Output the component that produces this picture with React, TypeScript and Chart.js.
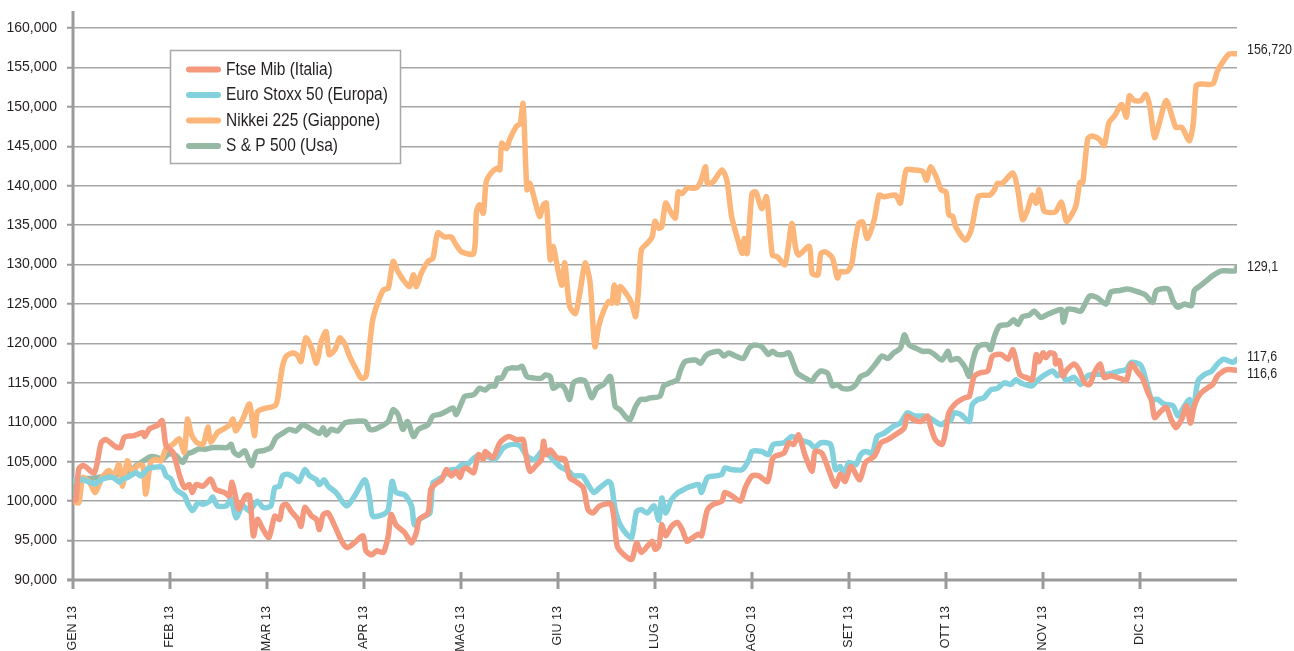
import React, { useEffect, useRef } from "react";
import { Chart, registerables } from "chart.js";

Chart.register(...registerables);

// ---------- DATA ----------
const monthLabels = ["GEN 13", "FEB 13", "MAR 13", "APR 13", "MAG 13", "GIU 13", "LUG 13", "AGO 13", "SET 13", "OTT 13", "NOV 13", "DIC 13"];
const seriesNames = ["Ftse Mib (Italia)", "Euro Stoxx 50 (Europa)", "Nikkei 225 (Giappone)", "S & P 500 (Usa)"];
const endLabels = ["116,6", "117,6", "156,720", "129,1"];
const yTickValues = [90, 95, 100, 105, 110, 115, 120, 125, 130, 135, 140, 145, 150, 155, 160];

// [month position, value (thousands)]
const ftseMib: [number, number][] = [
  [0.00, 100.0], [0.03, 100.2], [0.06, 104.1], [0.11, 104.5], [0.22, 103.6], [0.29, 107.4], [0.34, 107.8], [0.44, 106.9], [0.49, 106.8], [0.53, 108.1], [0.63, 108.3], [0.72, 108.7], [0.74, 108.2], [0.79, 109.2], [0.87, 109.6], [0.92, 110.2], [0.96, 107.0], [1.03, 106.2], [1.10, 103.2], [1.15, 101.7], [1.20, 102.1], [1.23, 101.1], [1.27, 102.1], [1.34, 101.9], [1.42, 102.8], [1.47, 101.5], [1.56, 101.1], [1.61, 100.7], [1.64, 102.4], [1.68, 100.3], [1.71, 99.0], [1.78, 100.7], [1.82, 100.7], [1.86, 95.6], [1.90, 97.7], [1.96, 96.4],
  [2.02, 95.4], [2.08, 98.1], [2.13, 97.7], [2.16, 99.4], [2.20, 99.6], [2.25, 98.7], [2.32, 97.7], [2.35, 96.8], [2.39, 99.2], [2.46, 98.1], [2.51, 97.7], [2.54, 96.4], [2.58, 98.3], [2.63, 98.5], [2.70, 96.8], [2.78, 94.7], [2.83, 94.1], [2.90, 94.7], [2.99, 95.6], [3.02, 93.7], [3.08, 93.2], [3.13, 93.7], [3.20, 93.5], [3.25, 95.6], [3.28, 98.3], [3.33, 97.0], [3.42, 96.0], [3.49, 94.7], [3.54, 96.0], [3.57, 97.7], [3.66, 98.5], [3.69, 101.5], [3.75, 102.3], [3.80, 102.7], [3.85, 104.0], [3.90, 103.2], [3.95, 103.8],
  [3.99, 103.0], [4.02, 104.0], [4.06, 104.2], [4.13, 103.6], [4.18, 105.9], [4.23, 105.3], [4.25, 106.3], [4.33, 105.5], [4.40, 107.4], [4.49, 108.2], [4.57, 107.8], [4.64, 107.8], [4.66, 106.5], [4.71, 103.8], [4.78, 104.6], [4.83, 105.3], [4.85, 107.6], [4.88, 105.9], [4.92, 106.5], [4.99, 105.5], [5.07, 105.3], [5.12, 103.0], [5.18, 102.5], [5.26, 101.7], [5.31, 98.9], [5.36, 98.5], [5.43, 99.4], [5.55, 99.6], [5.61, 94.3], [5.68, 93.2], [5.76, 92.6], [5.81, 94.7], [5.86, 93.5], [5.97, 94.9],
  [6.00, 93.9], [6.04, 94.3], [6.07, 97.0], [6.11, 95.6], [6.17, 96.8], [6.23, 97.3], [6.28, 96.4], [6.33, 94.9], [6.38, 95.3], [6.45, 95.8], [6.48, 95.6], [6.54, 98.9], [6.60, 99.6], [6.69, 100.0], [6.72, 101.1], [6.79, 100.7], [6.88, 100.0], [6.93, 101.7], [7.00, 103.2], [7.07, 103.2], [7.16, 102.5], [7.21, 105.3], [7.24, 105.7], [7.33, 106.1], [7.38, 107.4], [7.43, 107.2], [7.48, 108.4], [7.55, 105.7], [7.62, 103.8], [7.65, 106.3], [7.72, 106.1], [7.79, 104.0], [7.86, 101.9], [7.91, 103.4], [7.96, 102.5],
  [8.02, 104.4], [8.11, 102.7], [8.17, 104.9], [8.26, 105.7], [8.33, 107.4], [8.40, 107.8], [8.50, 108.6], [8.57, 109.3], [8.60, 110.8], [8.67, 110.3], [8.74, 110.1], [8.81, 110.8], [8.84, 109.5], [8.89, 107.8], [8.96, 107.2], [9.00, 109.1], [9.03, 111.2], [9.10, 112.4], [9.19, 113.1], [9.24, 113.3], [9.29, 115.8], [9.36, 116.3], [9.43, 116.5], [9.48, 118.4], [9.57, 118.6], [9.64, 118.0], [9.69, 119.2], [9.76, 116.1], [9.84, 115.6], [9.89, 115.4], [9.93, 118.6], [9.96, 117.7], [10.00, 118.8],
  [10.03, 118.2], [10.07, 118.8], [10.12, 118.6], [10.13, 117.4], [10.17, 117.8], [10.20, 115.9], [10.25, 116.7], [10.32, 117.4], [10.37, 116.7], [10.43, 115.0], [10.48, 114.8], [10.53, 116.3], [10.59, 117.4], [10.63, 115.7], [10.70, 115.9], [10.81, 115.5], [10.86, 115.3], [10.91, 117.4], [10.98, 116.3], [11.03, 115.5], [11.08, 113.8], [11.12, 112.7], [11.15, 110.6], [11.20, 111.2], [11.27, 111.9], [11.32, 110.4], [11.37, 109.3], [11.43, 110.4], [11.48, 112.1], [11.52, 109.9], [11.56, 112.1], [11.62, 113.6], [11.70, 114.4], [11.75, 114.8], [11.80, 115.9], [11.86, 116.5], [11.91, 116.7], [12.00, 116.6],
];

const euroStoxx: [number, number][] = [
  [0.00, 102.6], [0.05, 102.4], [0.08, 102.8], [0.13, 102.6], [0.23, 102.2], [0.30, 102.8], [0.41, 103.0], [0.48, 102.4], [0.51, 102.8], [0.56, 103.0], [0.65, 103.6], [0.70, 103.2], [0.77, 104.1], [0.84, 104.3], [0.92, 104.3], [0.96, 103.2], [1.01, 102.8], [1.06, 101.5], [1.15, 100.7], [1.18, 99.8], [1.23, 98.8], [1.29, 99.8], [1.34, 99.6], [1.41, 100.0], [1.44, 100.5], [1.49, 99.4], [1.58, 99.4], [1.63, 100.3], [1.68, 97.9], [1.75, 99.4], [1.82, 98.8], [1.90, 100.0], [1.96, 99.2],
  [2.04, 99.4], [2.08, 101.7], [2.13, 101.9], [2.16, 103.2], [2.21, 103.4], [2.28, 103.0], [2.33, 102.5], [2.39, 104.0], [2.44, 103.2], [2.51, 102.7], [2.54, 102.1], [2.59, 102.7], [2.63, 101.9], [2.71, 101.1], [2.82, 99.4], [2.90, 100.6], [3.01, 102.7], [3.06, 100.2], [3.09, 98.1], [3.20, 98.3], [3.25, 98.9], [3.29, 102.5], [3.33, 101.1], [3.42, 100.8], [3.49, 99.4], [3.52, 97.0], [3.57, 97.7], [3.63, 98.1], [3.68, 98.5], [3.71, 102.3], [3.76, 102.7], [3.82, 103.2], [3.90, 104.0], [3.95, 104.0],
  [4.01, 104.6], [4.06, 104.6], [4.16, 105.7], [4.26, 105.7], [4.35, 105.3], [4.44, 106.8], [4.54, 107.2], [4.61, 107.0], [4.68, 105.7], [4.76, 105.3], [4.85, 106.5], [4.93, 105.5], [5.02, 104.4], [5.11, 103.8], [5.16, 103.2], [5.25, 103.2], [5.31, 102.1], [5.37, 101.1], [5.43, 101.7], [5.52, 102.5], [5.55, 102.1], [5.59, 98.9], [5.64, 97.0], [5.71, 95.8], [5.76, 95.4], [5.81, 98.7], [5.86, 98.9], [5.92, 98.5], [5.99, 99.4], [6.04, 97.6], [6.07, 100.4],
  [6.11, 98.5], [6.17, 100.2], [6.24, 101.1], [6.30, 101.5], [6.33, 101.7], [6.38, 101.9], [6.45, 102.1], [6.48, 101.1], [6.54, 103.0], [6.62, 103.2], [6.69, 103.4], [6.72, 104.2], [6.79, 104.0], [6.90, 104.0], [6.97, 105.3], [7.00, 106.3], [7.10, 106.3], [7.17, 105.9], [7.22, 107.2], [7.33, 107.4], [7.41, 108.2], [7.48, 107.8], [7.59, 107.4], [7.65, 106.8], [7.71, 107.4], [7.81, 107.2], [7.86, 104.0], [7.91, 104.4], [7.95, 103.4], [8.00, 104.9],
  [8.07, 104.6], [8.12, 105.9], [8.17, 106.3], [8.24, 106.1], [8.29, 108.2], [8.36, 108.6], [8.46, 109.5], [8.53, 109.9], [8.60, 111.2], [8.67, 110.8], [8.77, 110.8], [8.84, 110.5], [8.95, 109.7], [9.00, 110.1], [9.05, 110.3], [9.08, 111.2], [9.15, 111.0], [9.24, 110.1], [9.27, 112.2], [9.33, 112.9], [9.39, 113.1], [9.46, 114.1], [9.53, 114.3], [9.60, 115.0], [9.67, 114.8], [9.72, 115.4], [9.77, 115.0], [9.88, 114.6], [9.95, 115.4],
  [10.03, 116.1], [10.10, 116.5], [10.15, 115.9], [10.19, 116.3], [10.24, 115.3], [10.32, 115.7], [10.39, 114.8], [10.46, 115.9], [10.55, 116.1], [10.67, 116.1], [10.79, 116.5], [10.86, 116.7], [10.91, 117.6], [11.01, 117.2], [11.08, 114.4], [11.12, 112.9], [11.18, 112.9], [11.25, 112.3], [11.34, 112.1], [11.39, 110.8], [11.46, 112.1], [11.51, 112.9], [11.55, 111.7], [11.60, 115.3], [11.67, 116.1], [11.74, 116.5], [11.80, 117.4], [11.86, 118.0], [11.91, 117.8], [11.96, 117.6], [12.00, 118.0],
];

const nikkei: [number, number][] = [
  [0.00, 100.0], [0.06, 99.8], [0.10, 103.0], [0.17, 102.4], [0.23, 101.1], [0.30, 103.0], [0.37, 103.9], [0.42, 103.2], [0.475, 104.7], [0.51, 101.9], [0.56, 105.1], [0.61, 103.6], [0.665, 104.5], [0.72, 104.5], [0.75, 100.9], [0.80, 104.9], [0.85, 105.3], [0.906, 105.1], [0.957, 106.6], [1.03, 107.2], [1.095, 107.9], [1.147, 106.2], [1.18, 110.4], [1.22, 108.5], [1.27, 107.5], [1.34, 107.2], [1.39, 109.4], [1.42, 107.5], [1.49, 108.7], [1.56, 109.2], [1.61, 109.6], [1.65, 110.4], [1.68, 108.9], [1.75, 110.4], [1.82, 112.3], [1.87, 108.3], [1.90, 111.3], [1.96, 111.7],
  [2.09, 112.2], [2.13, 114.8], [2.16, 117.1], [2.20, 118.4], [2.27, 118.8], [2.32, 118.4], [2.35, 117.7], [2.40, 120.7], [2.46, 119.4], [2.51, 117.5], [2.56, 120.3], [2.61, 121.5], [2.64, 118.6], [2.70, 119.2], [2.75, 120.7], [2.80, 120.0], [2.85, 118.4], [2.92, 116.7], [2.97, 115.6], [3.02, 115.8], [3.06, 120.0], [3.09, 123.0], [3.14, 125.1], [3.20, 126.8], [3.25, 127.0], [3.30, 130.4], [3.35, 129.1], [3.42, 127.8], [3.47, 127.2], [3.51, 128.7], [3.54, 127.2], [3.59, 128.9], [3.66, 130.4], [3.71, 130.8], [3.76, 134.0], [3.83, 133.5], [3.90, 133.5], [3.95, 132.5], [4.01, 131.6],
  [4.13, 131.4], [4.16, 136.7], [4.19, 137.6], [4.23, 136.5], [4.26, 140.5], [4.31, 141.6], [4.37, 142.2], [4.40, 142.0], [4.42, 145.4], [4.47, 144.7], [4.50, 145.8], [4.57, 147.5], [4.61, 147.9], [4.64, 150.4], [4.68, 139.5], [4.71, 140.3], [4.76, 138.2], [4.81, 136.1], [4.85, 137.6], [4.88, 137.8], [4.92, 130.6], [4.95, 132.3], [5.00, 129.3], [5.04, 127.4], [5.07, 130.2], [5.12, 124.7], [5.18, 123.8], [5.23, 126.8], [5.28, 130.2], [5.33, 127.8], [5.38, 119.6], [5.42, 122.2], [5.47, 124.1], [5.52, 125.3], [5.555, 125.1], [5.58, 127.4], [5.61, 125.1], [5.64, 127.2], [5.71, 126.2], [5.76, 125.1], [5.80, 123.4], [5.83, 126.8], [5.86, 131.9], [5.92, 132.7], [5.97, 133.5], [6.00, 135.5], [6.04, 134.6], [6.07, 134.8],
  [6.11, 137.8], [6.16, 136.7], [6.21, 135.9], [6.24, 139.2], [6.28, 139.0], [6.33, 139.7], [6.42, 139.7], [6.47, 140.5], [6.52, 142.4], [6.54, 140.3], [6.60, 140.5], [6.69, 142.0], [6.74, 140.7], [6.79, 136.1], [6.85, 133.3], [6.90, 131.4], [6.92, 133.3], [6.95, 131.4], [7.00, 139.0], [7.04, 139.2], [7.10, 137.1], [7.15, 138.6], [7.21, 131.2], [7.26, 131.0], [7.34, 130.0], [7.41, 135.2], [7.45, 132.1], [7.48, 131.2], [7.59, 132.3], [7.62, 128.9], [7.68, 128.7], [7.71, 131.4], [7.76, 131.6], [7.83, 130.8], [7.88, 128.3], [7.91, 129.1], [7.98, 129.1], [8.03, 130.2],
  [8.05, 131.9], [8.10, 135.2], [8.14, 135.4], [8.19, 133.3], [8.26, 135.7], [8.31, 138.8], [8.36, 138.6], [8.48, 138.8], [8.53, 137.8], [8.59, 142.0], [8.67, 142.0], [8.76, 141.8], [8.80, 140.7], [8.84, 142.4], [8.90, 141.1], [8.95, 139.5], [9.00, 139.2], [9.03, 136.3], [9.07, 136.1], [9.10, 134.8], [9.20, 133.1], [9.26, 134.4], [9.33, 138.6], [9.39, 138.8], [9.45, 138.8], [9.50, 139.5], [9.53, 140.3], [9.58, 140.3], [9.69, 141.6], [9.74, 139.5], [9.79, 135.7], [9.84, 136.9], [9.89, 138.8], [9.93, 137.8], [9.96, 139.5], [10.01, 136.8],
  [10.07, 136.6], [10.13, 136.7], [10.19, 137.9], [10.24, 135.5], [10.27, 135.8], [10.34, 137.5], [10.38, 140.4], [10.41, 140.4], [10.46, 145.9], [10.50, 146.3], [10.58, 145.9], [10.63, 145.1], [10.68, 148.0], [10.74, 148.9], [10.81, 150.3], [10.86, 148.7], [10.89, 151.4], [10.94, 150.8], [11.01, 150.8], [11.06, 151.6], [11.10, 150.1], [11.15, 146.1], [11.20, 148.0], [11.27, 150.8], [11.34, 148.4], [11.37, 147.4], [11.43, 147.4], [11.51, 145.7], [11.55, 148.0], [11.58, 152.7], [11.63, 152.9], [11.75, 152.9], [11.80, 154.6], [11.86, 155.8], [11.92, 156.7], [12.00, 156.72],
];

const sp500: [number, number][] = [
  [0.00, 101.0], [0.05, 102.7], [0.20, 102.9], [0.40, 103.3], [0.58, 103.6], [0.65, 104.5], [0.70, 104.9], [0.79, 105.6], [0.85, 105.6], [0.92, 105.3], [0.99, 106.0], [1.06, 105.8], [1.13, 104.9], [1.18, 106.0], [1.23, 106.2], [1.29, 106.6], [1.37, 106.6], [1.44, 106.8], [1.51, 106.8], [1.59, 106.8], [1.63, 107.2], [1.66, 106.2], [1.71, 105.8], [1.77, 106.4], [1.84, 104.5], [1.89, 106.2], [1.96, 106.4],
  [2.04, 106.8], [2.09, 108.0], [2.16, 108.6], [2.23, 109.1], [2.30, 108.9], [2.37, 109.7], [2.46, 109.1], [2.54, 108.6], [2.58, 109.3], [2.61, 108.4], [2.66, 109.1], [2.73, 108.9], [2.80, 109.9], [2.90, 110.1], [3.01, 110.1], [3.06, 109.1], [3.11, 109.1], [3.18, 109.5], [3.25, 110.1], [3.30, 111.6], [3.35, 111.0], [3.40, 109.1], [3.45, 110.1], [3.51, 108.2], [3.56, 109.1], [3.66, 109.7], [3.71, 110.8], [3.78, 111.0], [3.85, 111.4], [3.92, 111.8], [3.95, 111.0], [4.01, 112.6], [4.04, 113.3],
  [4.13, 113.5], [4.19, 114.3], [4.25, 114.1], [4.30, 114.6], [4.35, 114.6], [4.38, 115.6], [4.42, 115.6], [4.47, 116.7], [4.52, 116.9], [4.59, 116.9], [4.63, 117.1], [4.68, 115.8], [4.76, 115.6], [4.83, 115.6], [4.87, 116.0], [4.92, 115.8], [4.95, 114.3], [5.02, 114.8], [5.07, 114.3], [5.12, 112.9], [5.16, 115.0], [5.23, 115.4], [5.28, 115.2], [5.31, 114.3], [5.35, 113.1], [5.40, 114.3], [5.47, 114.8], [5.54, 115.8], [5.59, 112.0], [5.64, 111.6], [5.69, 110.8], [5.74, 110.3], [5.80, 112.0], [5.85, 112.9], [5.90, 112.9], [5.95, 113.1], [6.05, 113.3],
  [6.09, 114.6], [6.16, 115.0], [6.23, 115.4], [6.26, 116.5], [6.31, 117.7], [6.42, 117.9], [6.47, 117.5], [6.52, 118.4], [6.57, 118.8], [6.66, 119.0], [6.71, 118.4], [6.76, 118.8], [6.83, 118.4], [6.91, 118.1], [6.97, 119.4], [7.02, 119.8], [7.10, 119.6], [7.17, 118.6], [7.21, 119.0], [7.26, 118.6], [7.33, 118.6], [7.38, 118.8], [7.43, 117.3], [7.47, 116.2], [7.55, 115.6], [7.62, 115.2], [7.65, 115.8], [7.71, 116.5], [7.78, 116.2], [7.83, 114.6], [7.88, 114.8], [7.93, 114.3], [8.02, 114.3],
  [8.07, 114.8], [8.12, 115.8], [8.19, 116.2], [8.28, 117.5], [8.34, 118.4], [8.40, 118.1], [8.46, 118.8], [8.53, 119.4], [8.57, 121.1], [8.62, 119.8], [8.69, 119.4], [8.76, 119.0], [8.83, 119.0], [8.88, 118.6], [8.96, 117.9], [9.02, 119.0], [9.05, 117.9], [9.12, 118.1], [9.19, 117.1], [9.24, 115.8], [9.27, 117.5], [9.31, 119.2], [9.36, 119.8], [9.43, 119.8], [9.46, 119.2], [9.50, 120.9], [9.55, 122.2], [9.64, 122.4], [9.70, 123.0], [9.74, 122.4], [9.79, 123.4], [9.86, 123.6], [9.91, 124.1], [9.98, 123.3],
  [10.05, 123.7], [10.13, 124.1], [10.19, 124.3], [10.21, 122.7], [10.25, 124.3], [10.32, 124.3], [10.39, 124.1], [10.48, 126.0], [10.56, 125.8], [10.65, 125.0], [10.70, 126.5], [10.79, 126.7], [10.87, 126.9], [10.94, 126.7], [11.05, 126.2], [11.13, 125.2], [11.17, 126.7], [11.29, 126.9], [11.34, 125.4], [11.39, 124.6], [11.46, 125.0], [11.53, 124.8], [11.56, 126.7], [11.62, 127.3], [11.68, 127.9], [11.75, 128.6], [11.84, 129.2], [11.91, 129.2], [11.98, 129.2], [12.00, 129.7],
];

// ---------- STYLE ----------
const COLORS = ["#F4997D", "#84D1DE", "#FDB679", "#96B9A6"];
const END_LABEL_DY = [4, -2, -4, 0];
const AXIS_COLOR = "#9b9b9b";
const GRID_COLOR = "#a5a5a5";
const TEXT_COLOR = "#231f20";
const FONT = "'Liberation Sans', Arial, Helvetica, sans-serif";

const allSeries = [ftseMib, euroStoxx, nikkei, sp500];

function condensedText(ctx: CanvasRenderingContext2D, text: string, x: number, y: number, sx: number) {
  ctx.save();
  ctx.translate(x, y);
  ctx.scale(sx, 1);
  ctx.fillText(text, 0, 0);
  ctx.restore();
}

const decorPlugin = {
  id: "decor",
  beforeDatasetsDraw(chart: any) {
    const { ctx, chartArea } = chart;
    const { left, right, bottom, top } = chartArea;
    const xs = chart.scales.x;
    ctx.save();
    ctx.strokeStyle = AXIS_COLOR;
    ctx.lineWidth = 3;
    ctx.beginPath();
    ctx.moveTo(left, top - 17);
    ctx.lineTo(left, bottom + 1.5);
    ctx.moveTo(left - 6, bottom);
    ctx.lineTo(right, bottom);
    for (let i = 0; i < monthLabels.length; i++) {
      const x = xs.getPixelForValue(i);
      ctx.moveTo(x, bottom - 8);
      ctx.lineTo(x, bottom + 9);
    }
    ctx.stroke();
    ctx.restore();
  },
  afterDraw(chart: any) {
    const { ctx } = chart;
    const xs = chart.scales.x;
    const ys = chart.scales.y;
    ctx.save();
    // end labels
    ctx.fillStyle = TEXT_COLOR;
    ctx.font = `14px ${FONT}`;
    ctx.textAlign = "left";
    ctx.textBaseline = "middle";
    allSeries.forEach((s, i) => {
      const last = s[s.length - 1];
      const px = xs.getPixelForValue(last[0]);
      const py = ys.getPixelForValue(last[1]);
      condensedText(ctx, endLabels[i], px + 10, py + END_LABEL_DY[i], 0.89);
    });
    // legend box
    const bx = 170.5, by = 50.5, bw = 230, bh = 113;
    ctx.fillStyle = "#ffffff";
    ctx.fillRect(bx, by, bw, bh);
    ctx.strokeStyle = "#a8a8a8";
    ctx.lineWidth = 1.5;
    ctx.strokeRect(bx, by, bw, bh);
    ctx.font = `17.5px ${FONT}`;
    seriesNames.forEach((name, i) => {
      const y = 69.5 + i * 25.5;
      ctx.strokeStyle = COLORS[i];
      ctx.lineWidth = 6;
      ctx.lineCap = "round";
      ctx.beginPath();
      ctx.moveTo(189, y);
      ctx.lineTo(218, y);
      ctx.stroke();
      ctx.fillStyle = TEXT_COLOR;
      condensedText(ctx, name, 226, y + 0.5, 0.885);
    });
    ctx.restore();
  },
};

export default function App() {
  const canvasRef = useRef<HTMLCanvasElement | null>(null);

  useEffect(() => {
    const canvas = canvasRef.current;
    if (!canvas) return;
    const chart = new Chart(canvas, {
      type: "line",
      data: {
        datasets: allSeries.map((s, i) => ({
          label: seriesNames[i],
          data: s.map(([x, y]) => ({ x, y })),
          borderColor: COLORS[i],
          backgroundColor: COLORS[i],
          borderWidth: 5.5,
          pointRadius: 0,
          tension: 0.25,
          borderJoinStyle: "round" as const,
          borderCapStyle: "round" as const,
          fill: false,
        })),
      },
      options: {
        animation: false,
        responsive: true,
        maintainAspectRatio: false,
        layout: { padding: { top: 28, right: 57, left: 0, bottom: 0 } },
        plugins: {
          legend: { display: false },
          tooltip: { enabled: false },
        },
        scales: {
          x: {
            type: "linear",
            min: 0,
            max: 12,
            afterFit: (scale: any) => {
              scale.height = 71;
            },
            afterBuildTicks: (scale: any) => {
              scale.ticks = monthLabels.map((_, i) => ({ value: i }));
            },
            grid: { display: false },
            border: { display: false },
            ticks: {
              autoSkip: false,
              maxRotation: 90,
              minRotation: 90,
              padding: 18,
              color: TEXT_COLOR,
              font: { family: FONT, size: 12.5 },
              callback: (v: any) => monthLabels[Math.round(v)] ?? "",
            },
          },
          y: {
            min: 90,
            max: 160,
            afterFit: (scale: any) => {
              scale.width = 73;
            },
            afterBuildTicks: (scale: any) => {
              scale.ticks = yTickValues.map((v) => ({ value: v }));
            },
            grid: {
              color: GRID_COLOR,
              lineWidth: 1.5,
              drawTicks: true,
              tickLength: 6,
              tickColor: AXIS_COLOR,
              tickWidth: 2,
            },
            border: { display: false },
            ticks: {
              padding: 10,
              color: TEXT_COLOR,
              font: { family: FONT, size: 14 },
              callback: (v: any) => `${v},000`,
            },
          },
        },
      },
      plugins: [decorPlugin],
    });
    return () => chart.destroy();
  }, []);

  return (
    <div style={{ position: "fixed", left: 0, top: 0, width: 1294, height: 651, background: "#fff" }}>
      <canvas ref={canvasRef} />
    </div>
  );
}
